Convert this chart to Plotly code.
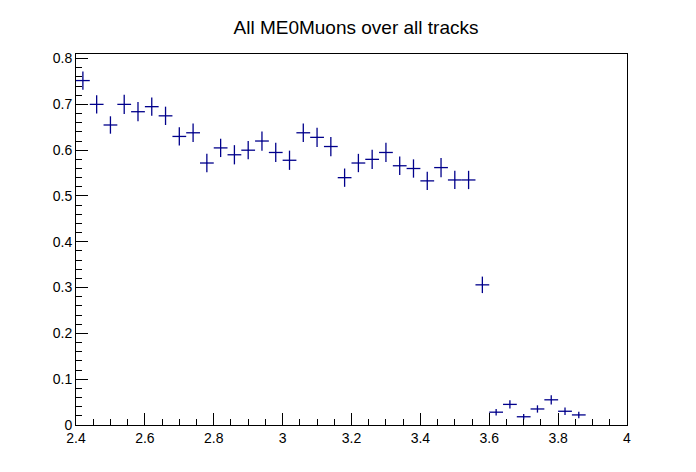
import plotly.graph_objects as go

# bin centres (width 0.04) and efficiency values
eta = [2.42, 2.46, 2.50, 2.54, 2.58, 2.62, 2.66, 2.70, 2.74, 2.78,
       2.82, 2.86, 2.90, 2.94, 2.98, 3.02, 3.06, 3.10, 3.14, 3.18,
       3.22, 3.26, 3.30, 3.34, 3.38, 3.42, 3.46, 3.50, 3.54, 3.58,
       3.62, 3.66, 3.70, 3.74, 3.78, 3.82, 3.86]
eff = [0.752, 0.700, 0.655, 0.700, 0.684, 0.695, 0.675, 0.630, 0.638, 0.572,
       0.605, 0.590, 0.600, 0.620, 0.595, 0.578, 0.638, 0.628, 0.608, 0.540,
       0.572, 0.580, 0.595, 0.566, 0.560, 0.533, 0.562, 0.535, 0.535, 0.306,
       0.028, 0.045, 0.018, 0.035, 0.055, 0.030, 0.022]
err = [0.020, 0.020, 0.019, 0.021, 0.021, 0.020, 0.020, 0.020, 0.020, 0.020,
       0.020, 0.021, 0.020, 0.021, 0.021, 0.021, 0.020, 0.021, 0.021, 0.020,
       0.020, 0.021, 0.021, 0.020, 0.020, 0.020, 0.021, 0.020, 0.020, 0.018,
       0.007, 0.009, 0.006, 0.008, 0.010, 0.008, 0.007]
half_width = [0.02] * len(eta)

col = "#00008b"
fig = go.Figure(go.Scatter(
    x=eta, y=eff, mode="markers",
    marker=dict(size=1, color=col),
    error_x=dict(type="data", array=half_width, color=col, thickness=1.3, width=0),
    error_y=dict(type="data", array=err, color=col, thickness=1.3, width=0),
))

axis_common = dict(showgrid=False, zeroline=False, showline=True, linecolor="black",
                   linewidth=1, mirror=True, ticks="inside", ticklen=12,
                   tickcolor="black", tickfont=dict(size=14, color="black"))
fig.update_xaxes(range=[2.4, 4.0], dtick=0.2, tickformat="~g",
                 minor=dict(ticks="inside", ticklen=6, dtick=0.05, tickcolor="black"),
                 **axis_common)
fig.update_yaxes(range=[0, 0.81], dtick=0.1, tickformat="~g",
                 minor=dict(ticks="inside", ticklen=6, dtick=0.02, tickcolor="black"),
                 **axis_common)
fig.update_layout(
    width=696, height=472,
    margin=dict(l=68, r=77, t=46, b=55),
    paper_bgcolor="white", plot_bgcolor="white",
    font=dict(family="Liberation Sans, Arial, sans-serif", color="black"),
    title=dict(text="All ME0Muons over all tracks", x=0.5, xanchor="center",
               y=0.96, yanchor="middle", font=dict(size=19)),
    showlegend=False,
)
fig.write_html("out.html")
